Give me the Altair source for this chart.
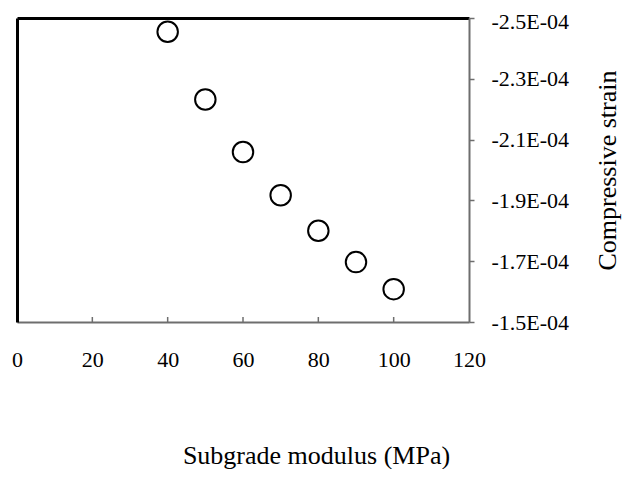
import altair as alt
import pandas as pd

modulus = [40, 50, 60, 70, 80, 90, 100]
strain = [-2.455e-4, -2.232e-4, -2.059e-4, -1.917e-4, -1.800e-4, -1.697e-4, -1.608e-4]
x_ticks = [0, 20, 40, 60, 80, 100, 120]
inner_ticks = [20, 40, 60, 80, 100]
y_ticks = [-2.5e-4, -2.3e-4, -2.1e-4, -1.9e-4, -1.7e-4, -1.5e-4]

df = pd.DataFrame({"modulus": modulus, "strain": strain})
tick_df = pd.DataFrame({"t": inner_ticks})

FONT = "Liberation Serif"
W, H = 452, 304
GRAY = "#6e6e6e"
LFS = 22
TFS = 26

xscale = alt.Scale(domain=[0, 120], nice=False, zero=False)
yscale = alt.Scale(domain=[-2.5e-4, -1.5e-4], reverse=True, nice=False, zero=False)

points = alt.Chart(df).mark_point(
    shape="circle", filled=False, stroke="black", strokeWidth=2, size=420, opacity=1
).encode(
    x=alt.X("modulus:Q", scale=xscale, title="Subgrade modulus (MPa)",
            axis=alt.Axis(orient="bottom", values=x_ticks, tickSize=0,
                          labelFlush=False, labelPadding=27, titlePadding=72,
                          domainColor=GRAY, domainWidth=2, labelFont=FONT,
                          titleFont=FONT, labelFontSize=LFS, titleFontSize=TFS,
                          titleFontWeight="normal", labelColor="black",
                          titleColor="black", grid=False, titleX=299)),
    y=alt.Y("strain:Q", scale=yscale, title="Compressive strain",
            axis=alt.Axis(orient="right", values=y_ticks, tickSize=5, tickColor=GRAY,
                          tickWidth=1.5, labelPadding=17, titlePadding=26,
                          titleAngle=270, titleBaseline="top",
                          labelOffset={"condition": {"test": "datum.value < -2.45e-4", "value": 3}, "value": 0},
                          domainColor=GRAY, domainWidth=2, labelFlush=False,
                          labelExpr="'-' + format(abs(datum.value)*1e4, '.1f') + 'E-04'",
                          labelFont=FONT, titleFont=FONT, labelFontSize=LFS,
                          titleFontSize=TFS, titleFontWeight="normal",
                          labelColor="black", titleColor="black", grid=False)),
)

frame = alt.Chart(df).mark_point(opacity=0).encode(
    x=alt.X("modulus:Q", scale=xscale,
            axis=alt.Axis(orient="top", labels=False, ticks=False, title=None,
                          domainColor="black", domainWidth=3, grid=False)),
    y=alt.Y("strain:Q", scale=yscale,
            axis=alt.Axis(orient="left", labels=False, ticks=False, title=None,
                          domainColor="black", domainWidth=3, grid=False)),
)

ticks = alt.Chart(tick_df).mark_rule(color=GRAY, strokeWidth=1.5).encode(
    x=alt.X("t:Q", scale=xscale, axis=None),
    y=alt.value(H),
    y2=alt.value(H - 5),
)

chart = alt.layer(ticks, frame, points).resolve_axis(
    x="independent", y="independent"
).properties(
    width=W, height=H,
    autosize=alt.AutoSizeParams(type="none"),
    padding={"left": 9, "top": 10, "right": 157, "bottom": 147},
).configure_view(stroke=None).configure(background="white")

chart.save("out.html", embed_options={"renderer": "svg", "actions": False})
